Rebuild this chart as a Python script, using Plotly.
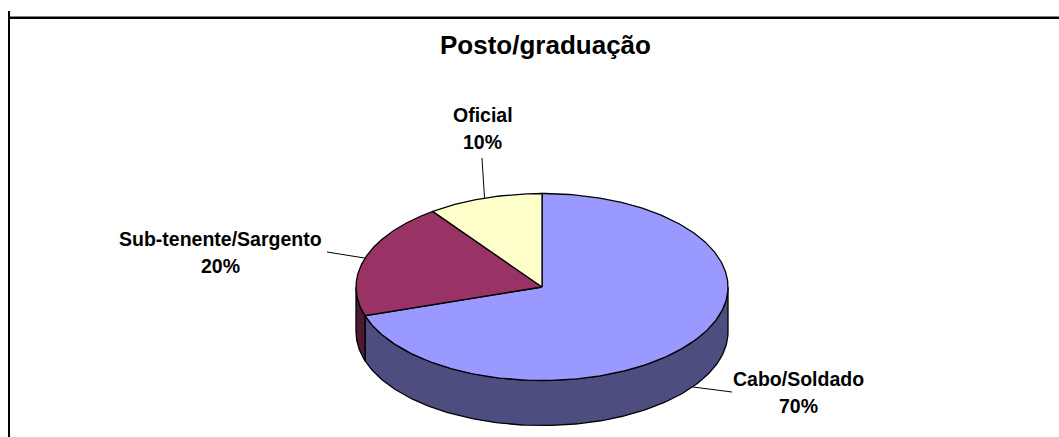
import numpy as np
import plotly.graph_objects as go

# Data
categories = ["Cabo/Soldado", "Sub-tenente/Sargento", "Oficial"]
values = [70, 20, 10]

# Styling
top_colors = ["#9999FF", "#993366", "#FFFFCC"]
side_colors = ["#4D4D80", "#4D1A33", "#80806A"]
FONT = "Arial, Liberation Sans, sans-serif"

# Pie geometry (drawing space in pixels, y pointing down)
CX, CY, RX, RY, DEPTH = 542, 287, 186, 93.5, 45
# label block centres and leader-line outer ends
label_pos = [(798, 379, 406), (220, 239, 266), (482.5, 115, 141.5)]
leader_end = [(732, 392), (327, 252), (482, 158)]


def rim(theta, dz=0.0):
    t = np.radians(theta)
    return CX + RX * np.sin(t), CY - RY * np.cos(t) + dz


total = float(sum(values))
bounds = np.concatenate([[0], np.cumsum(values) / total * 360.0])

fig = go.Figure()

# outer wall (only the front half, 90..270 deg, is visible)
for i in range(len(values)):
    a0, a1 = max(bounds[i], 90), min(bounds[i + 1], 270)
    if a1 <= a0:
        continue
    th = np.linspace(a0, a1, 200)
    xt, yt = rim(th)
    xb, yb = rim(th[::-1], DEPTH)
    xs = np.concatenate([xt, xb, xt[:1]])
    ys = np.concatenate([yt, yb, yt[:1]])
    fig.add_trace(go.Scatter(x=xs, y=ys, mode="lines", fill="toself",
                             fillcolor=side_colors[i],
                             line=dict(color="black", width=1.3),
                             hoverinfo="skip", showlegend=False))

# top faces
for i in range(len(values)):
    th = np.linspace(bounds[i], bounds[i + 1], 300)
    xa, ya = rim(th)
    xs = np.concatenate([[CX], xa, [CX]])
    ys = np.concatenate([[CY], ya, [CY]])
    fig.add_trace(go.Scatter(x=xs, y=ys, mode="lines", fill="toself",
                             fillcolor=top_colors[i],
                             line=dict(color="black", width=1.3),
                             name=categories[i], hoverinfo="name",
                             showlegend=False))

# labels with leader lines
for i, cat in enumerate(categories):
    mid = (bounds[i] + bounds[i + 1]) / 2
    dz = DEPTH if 90 < mid < 270 else 0
    x0, y0 = rim(mid, dz)
    x1, y1 = leader_end[i]
    fig.add_trace(go.Scatter(x=[x0, x1], y=[y0, y1], mode="lines",
                             line=dict(color="black", width=1),
                             hoverinfo="skip", showlegend=False))
    lx, ly1, ly2 = label_pos[i]
    pct = f"{values[i] / total * 100:.0f}%"
    for txt, yy in ((cat, ly1), (pct, ly2)):
        fig.add_annotation(x=lx, y=yy, text=f"<b>{txt}</b>", showarrow=False,
                           xanchor="center", yanchor="middle",
                           font=dict(family=FONT, size=19.5, color="black"))

# title
fig.add_annotation(x=545, y=45, text="<b>Posto/graduação</b>", showarrow=False,
                   xanchor="center", yanchor="middle",
                   font=dict(family=FONT, size=26, color="black"))

# chart frame lines
fig.add_shape(type="line", x0=10, x1=1059, y0=16.5, y1=16.5,
              line=dict(color="#808080", width=1.2))
fig.add_shape(type="line", x0=10, x1=1059, y0=18, y1=18,
              line=dict(color="black", width=1.8))
fig.add_shape(type="line", x0=9, x1=9, y0=11, y1=437,
              line=dict(color="black", width=2))

fig.update_layout(
    width=1059, height=437,
    margin=dict(l=0, r=0, t=0, b=0),
    paper_bgcolor="white", plot_bgcolor="white",
    xaxis=dict(range=[0, 1059], visible=False, fixedrange=True),
    yaxis=dict(range=[437, 0], visible=False, fixedrange=True),
    showlegend=False,
)

fig.write_html("out.html")
